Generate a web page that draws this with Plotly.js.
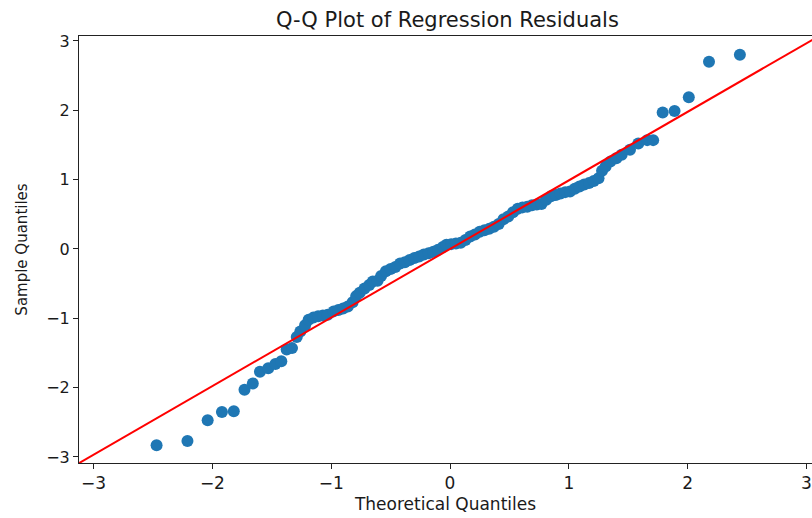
<!DOCTYPE html>
<html>
<head>
<meta charset="utf-8">
<script src="https://cdn.plot.ly/plotly-3.0.1.min.js"></script>
<style>html,body{margin:0;padding:0;background:#fff;}#chart{width:812px;height:518px;}</style>
</head>
<body>
<div id="chart"></div>
<script>
// Theoretical quantiles (x) and sample quantiles (y)
const theoretical = [
  -2.47, -2.21, -2.04, -1.92, -1.82, -1.73, -1.66, -1.60, -1.53, -1.47,
  -1.42, -1.375, -1.33, -1.29, -1.26, -1.22, -1.19, -1.15, -1.11, -1.07,
  -1.03, -0.98, -0.94, -0.90, -0.86, -0.82, -0.79, -0.76, -0.72, -0.68,
  -0.65, -0.61, -0.58, -0.54, -0.50, -0.46, -0.42, -0.38, -0.34, -0.30,
  -0.26, -0.22, -0.18, -0.14, -0.10, -0.06, -0.03, 0.01, 0.05, 0.09,
  0.13, 0.17, 0.21, 0.25, 0.29, 0.33, 0.37, 0.41, 0.45, 0.49,
  0.53, 0.57, 0.61, 0.65, 0.69, 0.73, 0.77, 0.81, 0.85, 0.89,
  0.93, 0.97, 1.01, 1.05, 1.09, 1.13, 1.17, 1.21, 1.25, 1.28,
  1.31, 1.35, 1.40, 1.445, 1.515, 1.585, 1.66, 1.71, 1.79, 1.89,
  2.01, 2.18, 2.44
];
const sample = [
  -2.83, -2.77, -2.47, -2.35, -2.34, -2.03, -1.94, -1.77, -1.72, -1.66,
  -1.62, -1.45, -1.43, -1.27, -1.19, -1.10, -1.02, -0.99, -0.97, -0.96,
  -0.95, -0.90, -0.88, -0.86, -0.83, -0.77, -0.68, -0.63, -0.57, -0.52,
  -0.47, -0.46, -0.39, -0.32, -0.29, -0.26, -0.21, -0.19, -0.16, -0.13,
  -0.11, -0.08, -0.06, -0.04, -0.01, 0.03, 0.06, 0.07, 0.08, 0.09,
  0.13, 0.18, 0.21, 0.25, 0.27, 0.29, 0.32, 0.36, 0.43, 0.47,
  0.53, 0.58, 0.60, 0.61, 0.63, 0.64, 0.65, 0.71, 0.76, 0.78,
  0.80, 0.82, 0.83, 0.87, 0.90, 0.93, 0.95, 0.98, 1.02, 1.13,
  1.19, 1.26, 1.31, 1.36, 1.43, 1.52, 1.57, 1.57, 1.97, 1.99,
  2.19, 2.70, 2.80
];
// Reference line endpoints
const lineX = [-3.2, 3.2];
const lineY = [-3.165, 3.165];
const xTicks = [-3, -2, -1, 0, 1, 2, 3];
const yTicks = [-3, -2, -1, 0, 1, 2, 3];

const font = {family: 'DejaVu Sans, sans-serif', color: '#1a1a1a'};
const lab = v => v < 0 ? '\u2212' + Math.abs(v) : String(v);

const traces = [
  {
    x: theoretical, y: sample, type: 'scatter', mode: 'markers',
    marker: {color: '#1f77b4', size: 12, line: {width: 0}},
    hoverinfo: 'x+y', showlegend: false
  },
  {
    x: lineX, y: lineY, type: 'scatter', mode: 'lines',
    line: {color: '#ff0000', width: 2}, showlegend: false
  }
];

const layout = {
  width: 812, height: 518,
  margin: {l: 79, r: 0, t: 36, b: 55},
  paper_bgcolor: '#fff', plot_bgcolor: '#fff',
  font: Object.assign({size: 15}, font),
  title: {text: 'Q-Q Plot of Regression Residuals', x: 0.551, xanchor: 'center', y: 0.963, yanchor: 'middle', font: Object.assign({size: 21}, font)},
  xaxis: {
    range: [-3.123, 3.047], tickvals: xTicks, ticktext: xTicks.map(lab),
    showgrid: false, zeroline: false, showline: true, linecolor: '#222', linewidth: 1, mirror: true,
    ticks: 'outside', ticklen: 5, tickwidth: 1, tickcolor: '#222',
    tickfont: Object.assign({size: 17}, font),
    title: {text: 'Theoretical Quantiles', font: Object.assign({size: 17}, font), standoff: 5}
  },
  yaxis: {
    range: [-3.087, 3.072], tickvals: yTicks, ticktext: yTicks.map(lab),
    showgrid: false, zeroline: false, showline: true, linecolor: '#222', linewidth: 1, mirror: false,
    ticks: 'outside', ticklen: 5, tickwidth: 1, tickcolor: '#222',
    tickfont: Object.assign({size: 16}, font),
    title: {text: 'Sample Quantiles', font: Object.assign({size: 15}, font), standoff: 14}
  }
};

Plotly.newPlot('chart', traces, layout, {displayModeBar: false, staticPlot: true});
</script>
</body>
</html>
